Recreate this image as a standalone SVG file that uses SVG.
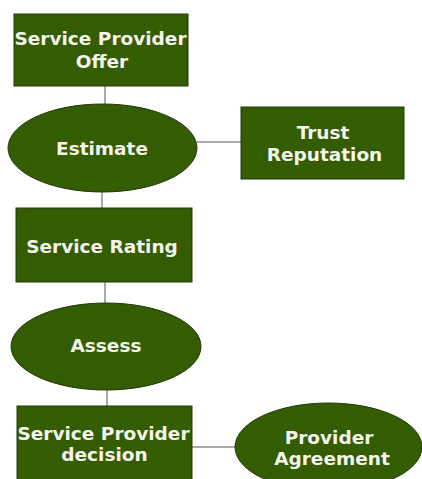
<svg xmlns="http://www.w3.org/2000/svg" width="422" height="479" viewBox="0 0 422 479">
  <style>
    .node { fill: #345c00; stroke: #22390a; stroke-width: 1; }
    .label { fill: #f4f4ee; font-family: "DejaVu Sans", Verdana, sans-serif; font-weight: bold; font-size: 18.5px; text-anchor: middle; }
    .edge { stroke: #555555; stroke-width: 1; fill: none; }
  </style>
  <rect width="422" height="479" fill="#ffffff"/>
  <g id="connectors">
    <line class="edge" x1="105" y1="86" x2="105" y2="104"/>
    <line class="edge" x1="197" y1="142" x2="241" y2="142"/>
    <line class="edge" x1="102" y1="192" x2="102" y2="208"/>
    <line class="edge" x1="105" y1="282" x2="105" y2="303"/>
    <line class="edge" x1="107" y1="390" x2="107" y2="406"/>
    <line class="edge" x1="192" y1="447" x2="235" y2="447"/>
  </g>
  <g id="offer">
    <rect class="node" x="14" y="14" width="174" height="72"/>
    <text class="label" x="100.5" y="45">Service Provider</text>
    <text class="label" x="102" y="68">Offer</text>
  </g>
  <g id="estimate">
    <ellipse class="node" cx="102.5" cy="148" rx="94.5" ry="44"/>
    <text class="label" x="102" y="155">Estimate</text>
  </g>
  <g id="trust">
    <rect class="node" x="241" y="107" width="163" height="72"/>
    <text class="label" x="323" y="139">Trust</text>
    <text class="label" x="324.5" y="161">Reputation</text>
  </g>
  <g id="rating">
    <rect class="node" x="16" y="208" width="176" height="74"/>
    <text class="label" x="102" y="253">Service Rating</text>
  </g>
  <g id="assess">
    <ellipse class="node" cx="106" cy="346.5" rx="95" ry="43.5"/>
    <text class="label" x="106" y="352">Assess</text>
  </g>
  <g id="decision">
    <rect class="node" x="17" y="406" width="175" height="80"/>
    <text class="label" x="103.5" y="440">Service Provider</text>
    <text class="label" x="104.5" y="461">decision</text>
  </g>
  <g id="agreement">
    <ellipse class="node" cx="328.5" cy="447" rx="93.5" ry="44"/>
    <text class="label" x="329" y="444">Provider</text>
    <text class="label" x="332" y="465">Agreement</text>
  </g>
</svg>
